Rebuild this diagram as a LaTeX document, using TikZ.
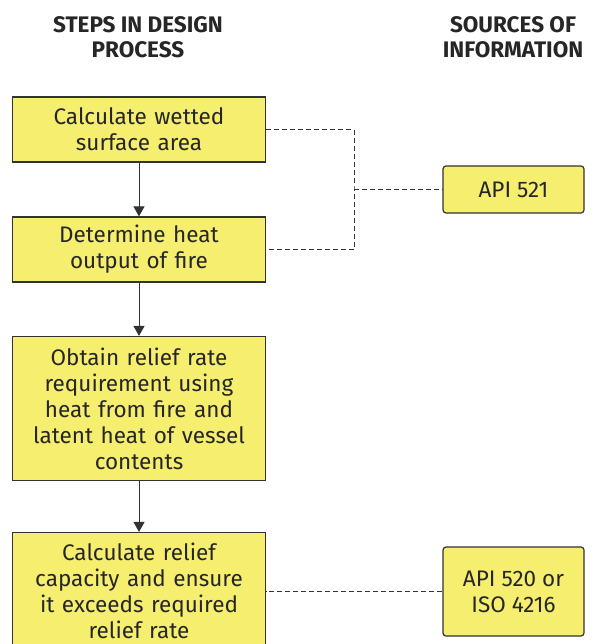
\documentclass[tikz,border=0pt]{standalone}
\usepackage{fontspec}
\setmainfont{Fira Sans}
\usetikzlibrary{arrows.meta}
\definecolor{boxyellow}{RGB}{245,238,110}
\definecolor{boxline}{RGB}{50,50,50}
\tikzset{
	stepbox/.style={draw=boxline, line width=1.2pt, fill=boxyellow, align=center,
		text width=245pt, inner xsep=4pt, inner ysep=0pt,
		font=\fontsize{22.5}{26}\selectfont, text=black!85},
	srcbox/.style={draw=boxline, line width=1.2pt, fill=boxyellow, align=center,
		rounded corners=3pt, minimum width=141pt, inner sep=0pt,
		font=\fontsize{22.5}{26}\selectfont, text=black!85},
	head/.style={align=center, font=\bfseries\fontsize{22.5}{25}\selectfont, text=black!85},
	flow/.style={draw=boxline, line width=1pt, -{Triangle[length=10pt,width=11pt]}},
	link/.style={draw=boxline, line width=1pt, dash pattern=on 5pt off 3pt}
}
\begin{document}
\begin{tikzpicture}[x=1pt, y=-1pt]
			\useasboundingbox (0,0) rectangle (592,644);

			\node[head] (steps) at(138, 37){STEPS IN DESIGN\\PROCESS};
			\node[head] (sources) at(513, 37){SOURCES OF\\INFORMATION};

			\node[stepbox, minimum height=65pt] (wetted) at(139, 129.5){Calculate wetted\\surface area};
			\node[stepbox, minimum height=65pt] (heat) at(139, 249.5){Determine heat\\output of fire};
			\node[stepbox, minimum height=144pt] (rate) at(139, 408.5){Obtain relief rate\\requirement using\\heat from fire and\\latent heat of vessel\\contents};
			\node[stepbox, minimum height=117pt] (capacity) at(139, 591){Calculate relief\\capacity and ensure\\it exceeds required\\relief rate};

			\node[srcbox, minimum height=47pt] (api521) at(513.5, 189.5){API 521};
			\node[srcbox, minimum height=89pt] (api520) at(513.5, 591.5){API 520 or\\ISO 4216};

			\draw[flow] (wetted) to (heat);
			\draw[flow] (heat) to (rate);
			\draw[flow] (rate) to (capacity);

			\coordinate (join) at(354, 189.5);
			\draw[link] (wetted.east) -| (join) |- (heat.east);
			\draw[link] (join) to (api521.west);
			\draw[link] (api520.west) to (api520.west -| capacity.east);
		\end{tikzpicture}
\end{document}
